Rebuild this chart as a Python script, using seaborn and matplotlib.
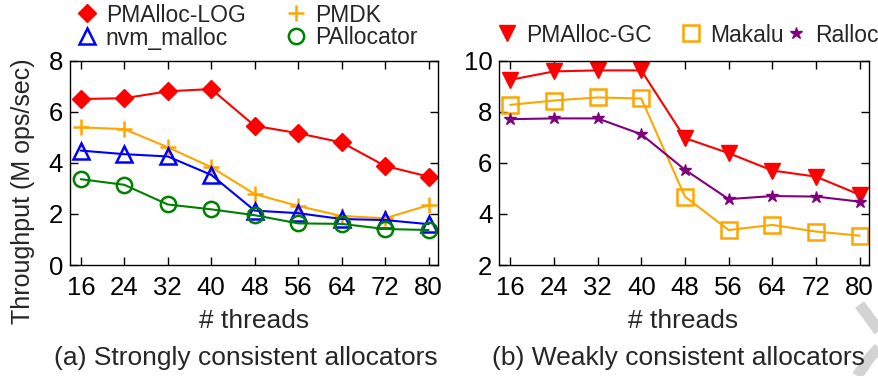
import numpy as np
import pandas as pd
import seaborn as sns
import matplotlib
matplotlib.use("Agg")
import matplotlib.pyplot as plt
from matplotlib.lines import Line2D

sns.set_theme(style="ticks")
plt.rcParams["font.family"] = ["Liberation Sans", "DejaVu Sans"]

threads = [16, 24, 32, 40, 48, 56, 64, 72, 80]

# (a) strongly consistent allocators, M ops/sec
pmalloc_log = [6.50, 6.53, 6.80, 6.89, 5.45, 5.16, 4.80, 3.88, 3.46]
pmdk = [5.39, 5.32, 4.61, 3.83, 2.78, 2.31, 1.92, 1.83, 2.34]
nvm_malloc = [4.48, 4.34, 4.25, 3.53, 2.13, 2.03, 1.80, 1.76, 1.60]
pallocator = [3.36, 3.14, 2.37, 2.18, 1.95, 1.63, 1.61, 1.41, 1.37]

# (b) weakly consistent allocators, M ops/sec
pmalloc_gc = [9.25, 9.58, 9.62, 9.62, 6.97, 6.38, 5.70, 5.46, 4.75]
makalu = [8.27, 8.44, 8.56, 8.52, 4.68, 3.37, 3.57, 3.31, 3.15]
ralloc = [7.71, 7.74, 7.74, 7.12, 5.73, 4.58, 4.70, 4.68, 4.48]

# name, values, colour, marker, size, filled, legend position (px from top-left)
series_a = [
    ("PMAlloc-LOG", pmalloc_log, "#ff0000", "D", 9, True, (76, 15)),
    ("PMDK", pmdk, "#ffa500", "+", 12, True, (285, 15)),
    ("nvm_malloc", nvm_malloc, "#0000ff", "^", 11, False, (76, 38)),
    ("PAllocator", pallocator, "#008000", "o", 11, False, (285, 38)),
]
series_b = [
    ("PMAlloc-GC", pmalloc_gc, "#ff0000", "v", 12, True, (496, 35)),
    ("Makalu", makalu, "#ffa500", "s", 11, False, (680, 35)),
    ("Ralloc", ralloc, "#800080", "*", 9, True, (785, 35)),
]

W, H = 879, 376
fig = plt.figure(figsize=(W / 100, H / 100), dpi=100)
ax_a = fig.add_axes([0.0796, 0.2952, 0.4184, 0.5434])
ax_b = fig.add_axes([0.568, 0.2952, 0.4206, 0.5434])


def draw(ax, series):
    for name, vals, color, marker, ms, filled, (lx, ly) in series:
        df = pd.DataFrame({"threads": threads, "tput": vals})
        kw = dict(marker=marker, markersize=ms, color=color,
                  markeredgewidth=1.8 if (not filled or marker == "+") else 1.0,
                  markeredgecolor=color,
                  markerfacecolor=color if filled else "none")
        sns.lineplot(data=df, x="threads", y="tput", ax=ax, legend=False,
                     linewidth=1.5, **kw)
        handle = Line2D([], [], linestyle="none", label=name, **kw)
        fig.legend(handles=[handle], loc="center left",
                   bbox_to_anchor=(lx / W, 1 - ly / H), frameon=False,
                   fontsize=16.5, handlelength=1.0, handletextpad=0.3,
                   borderpad=0, borderaxespad=0)
    ax.set_xlim(14.0, 81.7)
    ax.set_xticks(threads)
    ax.set_xlabel("# threads", fontsize=19)
    ax.tick_params(direction="in", top=True, right=True, length=6, width=1,
                   labelsize=18.5, colors="black")
    ax.tick_params(axis="x", pad=8)
    ax.tick_params(axis="y", pad=5)
    for sp in ax.spines.values():
        sp.set_linewidth(1.0)
        sp.set_color("black")


draw(ax_a, series_a)
ax_a.set_ylim(0, 8)
ax_a.set_yticks([0, 2, 4, 6, 8])
ax_a.set_ylabel("Throughput (M ops/sec)", fontsize=18)
ax_a.yaxis.set_label_coords(-0.095, 0.36)
ax_a.xaxis.set_label_coords(0.50, -0.215)

draw(ax_b, series_b)
ax_b.set_ylim(2, 10)
ax_b.set_yticks([2, 4, 6, 8, 10])
ax_b.set_ylabel("")
ax_b.xaxis.set_label_coords(0.497, -0.215)

fig.text(246 / W, 1 - 358 / H, "(a) Strongly consistent allocators",
         ha="center", va="center", fontsize=19)
fig.text(678 / W, 1 - 358 / H, "(b) Weakly consistent allocators",
         ha="center", va="center", fontsize=19)

# light grey strokes in the lower right corner
fig.add_artist(Line2D([0.978, 1.0], [0.19, 0.12], transform=fig.transFigure,
                      color="#d3d3d3", linewidth=8, solid_capstyle="butt"))
fig.add_artist(Line2D([0.975, 0.99, 1.0], [0.0, 0.05, 0.075],
                      transform=fig.transFigure, color="#d3d3d3",
                      linewidth=8, solid_capstyle="butt"))

fig.savefig("out.png", dpi=100)
